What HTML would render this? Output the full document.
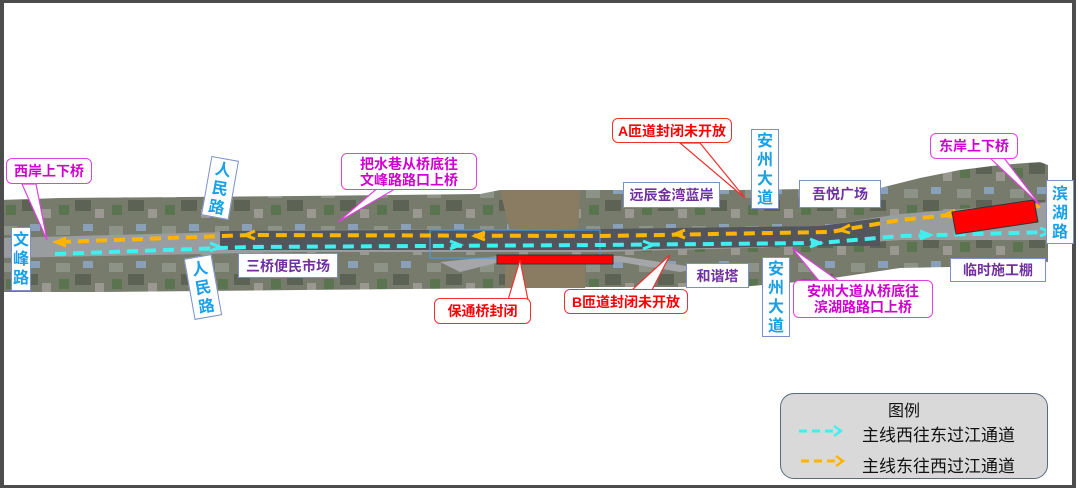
<!DOCTYPE html>
<html><head><meta charset="utf-8"><style>
body{margin:0;width:1080px;height:488px;overflow:hidden;background:#fff;font-family:"Liberation Sans","Noto Sans CJK SC",sans-serif;position:relative}
.f{position:absolute;border-top:3px solid #4d4d4d;border-left:4px solid #4d4d4d;border-right:4px solid #4d4d4d;border-bottom:3px solid #4d4d4d;left:0;top:0;width:1068px;height:482px;box-sizing:content-box}
.l{position:absolute;font-weight:bold;font-size:14px;text-align:center;line-height:16px;box-sizing:border-box}
.p{border:1.5px solid #e040e0;border-radius:6px;background:#fff;color:#d000d0;}
.r{border:1.5px solid #f03030;border-radius:6px;background:#fff;color:#ff0000;}
.b{border:1.5px solid #7a90c8;background:#fff;color:#7030a0;}
.v{border:1.5px solid #7a90c8;background:#fff;color:#1aa0e6;font-size:16px;line-height:19px}
</style></head><body>
<svg width="1080" height="488" style="position:absolute;left:0;top:0">
<defs>
<pattern id="t" width="53" height="37" patternUnits="userSpaceOnUse">
<rect width="53" height="37" fill="#767b6c"/>
<rect x="3" y="4" width="14" height="9" fill="#8e9388"/>
<rect x="22" y="15" width="16" height="11" fill="#5c6254"/>
<rect x="30" y="2" width="10" height="7" fill="#8aa0b8"/>
<rect x="6" y="20" width="10" height="10" fill="#5a7450"/>
<rect x="42" y="24" width="9" height="9" fill="#9a9890"/>
</pattern>
</defs>
<polygon points="0,200 60,198 300,196 480,194 500,190 600,190 740,190 880,188 920,178 960,170 1000,165 1040,162 1048,165 1048,262 1000,266 900,268 820,280 740,287 600,287 520,288 300,290 100,292 0,292" fill="url(#t)"/>
<polygon points="500,190 580,190 578,232 510,232" fill="#8a7c62"/>
<polygon points="505,262 585,262 585,288 505,288" fill="#8a7c62"/>
<polygon points="0,238 300,230 600,229 820,226 900,214 1048,202 1048,240 900,240 820,246 600,252 300,252 0,258" fill="#9a9da0"/>
<polygon points="220,231 600,229 820,226 880,218 880,246 820,246 600,250 220,250" fill="#52565c"/>
<polygon points="440,262 500,256 620,256 700,268 680,272 620,262 500,262 460,272" fill="#a4a6aa"/>
<path d="M430,230 h170 v28 h-170z" fill="none" stroke="#4a9ae0" stroke-width="1.5" opacity=".8"/>
<path d="M60,242 L250,235 L600,236 L830,232 L900,220 L1040,206" fill="none" stroke="#ffb400" stroke-width="4" stroke-dasharray="11,7"/>
<path d="M66,238 L56,242 L66,246" fill="none" stroke="#ffb400" stroke-width="3"/>
<path d="M255,231 L245,235 L255,239" fill="none" stroke="#ffb400" stroke-width="3"/>
<path d="M485,232 L475,236 L485,240" fill="none" stroke="#ffb400" stroke-width="3"/>
<path d="M685,230 L675,234 L685,238" fill="none" stroke="#ffb400" stroke-width="3"/>
<path d="M850,225 L840,230 L850,233" fill="none" stroke="#ffb400" stroke-width="3"/>
<path d="M955,210 L945,215 L955,218" fill="none" stroke="#ffb400" stroke-width="3"/>
<path d="M55,254 L250,247 L600,245 L820,243 L900,236 L1050,232" fill="none" stroke="#40f0f0" stroke-width="4" stroke-dasharray="11,7"/>
<path d="M210,243 L220,247 L210,251" fill="none" stroke="#40f0f0" stroke-width="3"/>
<path d="M450,241 L460,245 L450,249" fill="none" stroke="#40f0f0" stroke-width="3"/>
<path d="M643,241 L653,245 L643,249" fill="none" stroke="#40f0f0" stroke-width="3"/>
<path d="M810,239 L820,243 L810,247" fill="none" stroke="#40f0f0" stroke-width="3"/>
<path d="M920,231 L930,235 L920,239" fill="none" stroke="#40f0f0" stroke-width="3"/>
<path d="M1040,228 L1050,232 L1040,236" fill="none" stroke="#40f0f0" stroke-width="3"/>
<rect x="497" y="255" width="116" height="9" fill="#ff0000" stroke="#333" stroke-width="1"/>
<polygon points="952,212 1034,200 1038,222 956,234" fill="#ff0000" stroke="#333" stroke-width="1"/>
<polygon points="22,184 36,184 47,240" fill="#fff" stroke="#e040e0" stroke-width="1.2"/>
<polygon points="380,186 400,186 338,222" fill="#fff" stroke="#e040e0" stroke-width="1.2"/>
<polygon points="680,143 700,143 745,198" fill="#fff" stroke="#f03030" stroke-width="1.2"/>
<polygon points="508,300 528,300 520,260" fill="#fff" stroke="#f03030" stroke-width="1.2"/>
<polygon points="632,290 652,290 670,255" fill="#fff" stroke="#f03030" stroke-width="1.2"/>
<polygon points="820,282 840,282 792,248" fill="#fff" stroke="#e040e0" stroke-width="1.2"/>
<polygon points="990,158 1004,158 1040,205" fill="#fff" stroke="#e040e0" stroke-width="1.2"/>
</svg>
<div class="f"></div>

<div class="l p" style="left:6px;top:158px;width:86px;height:26px;padding-top:4px">西岸上下桥</div>
<div class="l p" style="left:341px;top:153px;width:136px;height:37px;padding-top:2px">把水巷从桥底往<br>文峰路路口上桥</div>
<div class="l r" style="left:612px;top:118px;width:120px;height:25px;padding-top:4px">A匝道封闭未开放</div>
<div class="l p" style="left:930px;top:133px;width:88px;height:26px;padding-top:4px">东岸上下桥</div>
<div class="l r" style="left:434px;top:298px;width:97px;height:26px;padding-top:4px">保通桥封闭</div>
<div class="l r" style="left:564px;top:289px;width:124px;height:25px;padding-top:4px">B匝道封闭未开放</div>
<div class="l p" style="left:793px;top:280px;width:140px;height:38px;padding-top:2px">安州大道从桥底往<br>滨湖路路口上桥</div>

<div class="l b" style="left:238px;top:253px;width:100px;height:25px;padding-top:4px">三桥便民市场</div>
<div class="l b" style="left:623px;top:182px;width:97px;height:26px;padding-top:4px">远辰金湾蓝岸</div>
<div class="l b" style="left:799px;top:180px;width:82px;height:28px;padding-top:5px">吾悦广场</div>
<div class="l b" style="left:686px;top:263px;width:63px;height:25px;padding-top:4px">和谐塔</div>
<div class="l b" style="left:950px;top:258px;width:96px;height:24px;padding-top:3px">临时施工棚</div>

<div class="l v" style="left:11px;top:227px;width:20px;height:64px;padding-top:3px">文<br>峰<br>路</div>
<div class="l v" style="left:206px;top:158px;width:28px;height:60px;padding-top:2px;transform:rotate(10deg)">人<br>民<br>路</div>
<div class="l v" style="left:189px;top:256px;width:28px;height:62px;padding-top:3px;transform:rotate(-10deg)">人<br>民<br>路</div>
<div class="l v" style="left:751px;top:129px;width:28px;height:80px;padding-top:2px;line-height:19px">安<br>州<br>大<br>道</div>
<div class="l v" style="left:762px;top:257px;width:28px;height:80px;padding-top:2px;line-height:19px">安<br>州<br>大<br>道</div>
<div class="l v" style="left:1046px;top:180px;width:28px;height:64px;padding-top:4px">滨<br>湖<br>路</div>

<div style="position:absolute;left:780px;top:393px;width:268px;height:86px;background:#d9d9d9;border:1.5px solid #5a6a80;border-radius:14px;box-sizing:border-box"></div>
<div style="position:absolute;left:888px;top:397px;font-size:16px;color:#111">图例</div>
<div style="position:absolute;left:862px;top:421px;font-size:17px;color:#111">主线西往东过江通道</div>
<div style="position:absolute;left:862px;top:452px;font-size:17px;color:#111">主线东往西过江通道</div>
<svg width="1080" height="488" style="position:absolute;left:0;top:0">
<path d="M799,431 h40" stroke="#40f0f0" stroke-width="3" stroke-dasharray="8,5"/>
<path d="M834,426 l7,5 l-7,5" fill="none" stroke="#40f0f0" stroke-width="2.5"/>
<path d="M801,461 h40" stroke="#ffb400" stroke-width="3" stroke-dasharray="8,5"/>
<path d="M836,456 l7,5 l-7,5" fill="none" stroke="#ffb400" stroke-width="2.5"/>
</svg>
</body></html>
